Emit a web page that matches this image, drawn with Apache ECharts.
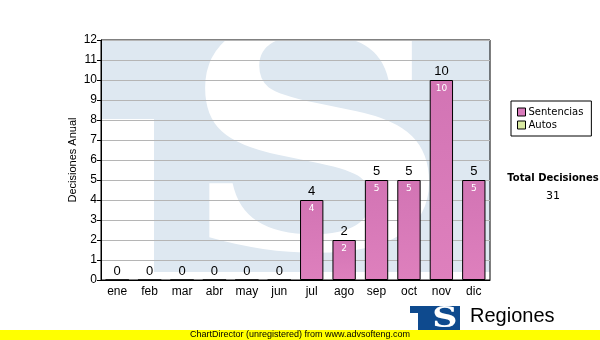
<!DOCTYPE html>
<html>
<head>
<meta charset="utf-8">
<script src="https://cdn.jsdelivr.net/npm/echarts@6/dist/echarts.min.js"></script>
<style>
  html, body { margin: 0; padding: 0; background: #fff; }
  #chart { width: 600px; height: 340px; }
</style>
</head>
<body>
<div id="chart"></div>
<script>
// decisiones anuales por mes
var meses = ['ene', 'feb', 'mar', 'abr', 'may', 'jun', 'jul', 'ago', 'sep', 'oct', 'nov', 'dic'];
var sentencias = [0, 0, 0, 0, 0, 0, 4, 2, 5, 5, 10, 5];
var autos = [0, 0, 0, 0, 0, 0, 0, 0, 0, 0, 0, 0];
var yTicks = { min: 0, max: 12, interval: 1 };

var total = 0;
sentencias.forEach(function(v, i) { total += v + autos[i]; });

var chart = echarts.init(document.getElementById('chart'), null, { renderer: 'canvas' });
var wm = '#dee8f1';
var azul = '#0e4a8e';

chart.setOption({
  animation: false,
  textStyle: { fontFamily: 'Liberation Sans' },
  grid: {
    left: 101, right: 110, top: 40, bottom: 60,
    show: true, borderColor: '#000', borderWidth: 1, backgroundColor: 'transparent'
  },
  graphic: [
    // marca de agua (logo TS)
    { type: 'rect', z: -10, silent: true, shape: { x: 101, y: 40, width: 389, height: 232 }, style: { fill: wm } },
    { type: 'rect', z: -9, silent: true, shape: { x: 101, y: 119, width: 53, height: 161 }, style: { fill: '#fff' } },
    { type: 'text', z: -8, silent: true, x: 316, y: 167, scaleX: 1.2, style: {
        x: 0, y: 0, text: 'S', fill: '#fff', align: 'center', verticalAlign: 'middle',
        font: 'bold 313px "DejaVu Serif"'
    } },
    { type: 'rect', z: -7, silent: true, shape: { x: 101, y: 20, width: 389, height: 20 }, style: { fill: '#fff' } },
    // título eje Y
    { type: 'text', rotation: Math.PI / 2, x: 73, y: 160, style: {
        text: 'Decisiones Anual', fill: '#000', align: 'center', verticalAlign: 'middle',
        font: '11px "Liberation Sans"'
    } },
    // total
    { type: 'text', x: 553, y: 178, style: {
        text: 'Total Decisiones', fill: '#000', align: 'center', verticalAlign: 'middle',
        font: 'bold 10px "DejaVu Sans"'
    } },
    { type: 'text', x: 553, y: 196, style: {
        text: String(total), fill: '#000', align: 'center', verticalAlign: 'middle',
        font: '11px "DejaVu Sans"'
    } },
    // logo inferior
    { type: 'rect', shape: { x: 410, y: 306, width: 50, height: 7 }, style: { fill: azul } },
    { type: 'rect', shape: { x: 418, y: 306, width: 42, height: 26 }, style: { fill: azul } },
    { type: 'text', x: 445, y: 320, scaleX: 1.25, style: {
        x: 0, y: 0, text: 'S', fill: '#fff', align: 'center', verticalAlign: 'middle',
        font: 'bold 28px "DejaVu Serif"'
    } },
    { type: 'text', x: 470, y: 316, style: {
        text: 'Regiones', fill: '#000', align: 'left', verticalAlign: 'middle',
        font: '20px "Liberation Sans"'
    } },
    { type: 'text', x: 467, y: 335, style: {
        text: 'Tribunal Supremo de Justicia', fill: '#000', align: 'left', verticalAlign: 'middle',
        font: '10px "Liberation Sans"'
    } },
    // franja amarilla
    { type: 'rect', z: 50, shape: { x: 0, y: 330, width: 600, height: 10 }, style: { fill: '#ffff00' } },
    { type: 'text', z: 51, x: 190, y: 335, style: {
        text: 'ChartDirector (unregistered) from www.advsofteng.com', fill: '#000', align: 'left', verticalAlign: 'middle',
        font: '9px "Liberation Sans"'
    } }
  ],
  legend: {
    orient: 'vertical',
    left: 511, top: 101,
    width: 80,
    padding: [6, 8, 6, 6],
    itemGap: 3,
    itemWidth: 8, itemHeight: 8,
    icon: 'rect',
    borderColor: '#000', borderWidth: 1,
    textStyle: { fontFamily: 'DejaVu Sans', fontSize: 10, color: '#000', padding: [0, 12, 0, -2] },
    data: [
      { name: 'Sentencias', itemStyle: { color: '#d97bbb', borderColor: '#000', borderWidth: 1 } },
      { name: 'Autos', itemStyle: { color: '#d9eaa2', borderColor: '#000', borderWidth: 1 } }
    ]
  },
  xAxis: {
    type: 'category',
    data: meses,
    axisLine: { lineStyle: { color: '#000', width: 1 } },
    axisTick: { alignWithLabel: true, length: 4, lineStyle: { color: '#000' } },
    axisLabel: { color: '#000', fontSize: 12, margin: 6 },
    splitLine: { show: false }
  },
  yAxis: {
    type: 'value',
    min: yTicks.min, max: yTicks.max, interval: yTicks.interval,
    axisLine: { show: true, lineStyle: { color: '#000', width: 1 } },
    axisTick: { show: true, length: 4, lineStyle: { color: '#000' } },
    axisLabel: { color: '#000', fontSize: 12, margin: 4 },
    splitLine: { lineStyle: { color: '#b5b5b5', width: 1 } }
  },
  series: [
    {
      name: 'Sentencias',
      type: 'bar',
      stack: 'dec',
      barCategoryGap: '28%',
      data: sentencias,
      itemStyle: {
        color: new echarts.graphic.LinearGradient(0, 0, 0, 1, [
          { offset: 0, color: '#d274b4' },
          { offset: 1, color: '#de80bd' }
        ]),
        borderColor: '#000', borderWidth: 1
      },
      label: {
        show: true, position: 'insideTop', distance: 4,
        color: '#fff', fontSize: 9, fontFamily: 'DejaVu Sans',
        formatter: function(p) { return p.value ? p.value : ''; }
      }
    },
    {
      name: 'Autos',
      type: 'bar',
      stack: 'dec',
      data: autos,
      itemStyle: { color: '#d9eaa2', borderWidth: 0 },
      label: {
        show: true, position: 'top', distance: 2,
        color: '#000', fontSize: 13, fontFamily: 'Liberation Sans',
        formatter: function(p) { return sentencias[p.dataIndex] + autos[p.dataIndex]; }
      }
    }
  ]
});
</script>
</body>
</html>
